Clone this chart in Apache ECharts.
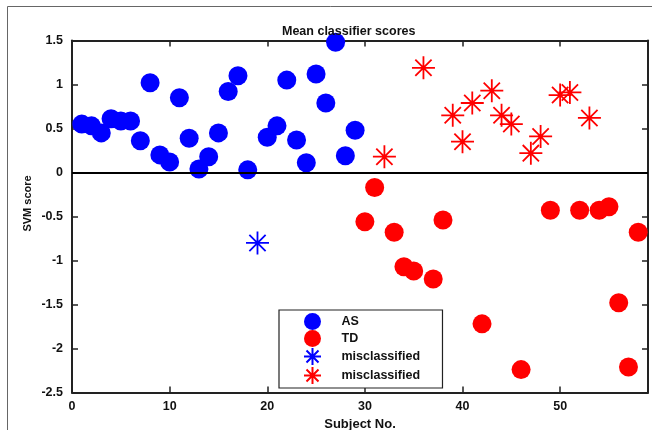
<!DOCTYPE html>
<html>
<head>
<meta charset="utf-8">
<script src="https://cdn.jsdelivr.net/npm/echarts@6/dist/echarts.min.js"></script>
<style>
html,body{margin:0;padding:0;background:#fff;}
#chart{width:652px;height:430px;}
</style>
</head>
<body>
<div id="chart"></div>
<script>
// Data
var asSubjects = [1,2,3,4,5,6,7,8,9,10,11,12,13,14,15,16,17,18,20,21,22,23,24,25,26,27,28,29];
var asScores   = [0.55,0.53,0.45,0.61,0.585,0.585,0.36,1.02,0.20,0.12,0.85,0.39,0.04,0.18,0.45,0.92,1.10,0.03,0.40,0.53,1.05,0.37,0.11,1.12,0.79,1.48,0.19,0.48];
var tdSubjects = [30,31,33,34,35,37,38,42,46,49,52,54,55,56,57,58];
var tdScores   = [-0.56,-0.17,-0.68,-1.07,-1.12,-1.21,-0.54,-1.72,-2.24,-0.43,-0.43,-0.43,-0.39,-1.48,-2.21,-0.68];
var misAsSubjects = [19];
var misAsScores   = [-0.80];
var misTdSubjects = [32,36,39,40,41,43,44,45,47,48,50,51,53];
var misTdScores   = [0.18,1.19,0.65,0.35,0.79,0.93,0.65,0.55,0.22,0.41,0.88,0.91,0.62];
var xTicks = [0,10,20,30,40,50];
var yTicks = [1.5,1,0.5,0,-0.5,-1,-1.5,-2,-2.5];
var titleText = 'Mean classifier scores';
var xName = 'Subject No.';
var yName = 'SVM score';
var legendNames = ['AS','TD','misclassified','misclassified '];

function pairs(xs, ys){ return xs.map(function(x,i){ return [x, ys[i]]; }); }

var FONT = '"Liberation Sans", Arial, Helvetica, sans-serif';
var STAR = 'path://M0,10L20,10M10,0L10,20M2.93,2.93L17.07,17.07M17.07,2.93L2.93,17.07';

var chart = echarts.init(document.getElementById('chart'), null, {renderer:'canvas'});

var xMin = 0, xMax = 59, yMin = -2.5, yMax = 1.5;

var axisCommon = {
  axisLine: {show:true, onZero:false, lineStyle:{color:'#222', width:2}},
  axisTick: {show:true, inside:true, length:6, lineStyle:{color:'#222', width:1.5}},
  splitLine: {show:false}
};

var option = {
  animation: false,
  backgroundColor: '#fff',
  textStyle: {fontFamily: FONT},
  graphic: [{
    type:'rect', silent:true,
    shape:{x:7.5, y:6.5, width:700, height:500},
    style:{fill:'none', stroke:'#666', lineWidth:1}
  }, {
    type:'text', silent:true,
    x:27.5, y:203.5, rotation:Math.PI/2,
    style:{text:yName, fontFamily:FONT, fontSize:11, fontWeight:'bold', fill:'#111',
      align:'center', verticalAlign:'middle'}
  }],
  title: {
    text: titleText,
    left: 282, top: 25, padding: 0,
    textStyle: {fontFamily: FONT, fontSize: 12.5, fontWeight: 'bold', color:'#111'}
  },
  grid: {left:72, right:4, top:40.5, bottom:37.5, containLabel:false, outerBoundsMode:'none'},
  xAxis: [
    Object.assign({
      type:'value', min:xMin, max:xMax, interval:10, position:'bottom',
      name: xName, nameLocation:'middle', nameGap:24,
      nameTextStyle:{fontFamily:FONT, fontSize:13, fontWeight:'bold', color:'#111'},
      axisLabel:{show:true, margin:8, fontFamily:FONT, fontSize:12.5, fontWeight:'bold', color:'#111',
        showMaxLabel:false,
        formatter:function(v){ return xTicks.indexOf(v) >= 0 ? String(v) : ''; }}
    }, axisCommon),
    Object.assign({
      type:'value', min:xMin, max:xMax, interval:10, position:'top',
      axisLabel:{show:false}
    }, axisCommon)
  ],
  yAxis: [
    Object.assign({
      type:'value', min:yMin, max:yMax, interval:0.5, position:'left',
      axisLabel:{show:true, margin:9, fontFamily:FONT, fontSize:12.5, fontWeight:'bold', color:'#111',
        formatter:function(v){ return yTicks.indexOf(v) >= 0 ? String(v) : ''; }}
    }, axisCommon),
    Object.assign({
      type:'value', min:yMin, max:yMax, interval:0.5, position:'right',
      axisLabel:{show:false}
    }, axisCommon)
  ],
  legend: {
    orient:'vertical',
    left:279, top:310,
    padding:[3, 19, 3, 24],
    itemWidth:48, itemHeight:17, itemGap:0,
    borderColor:'#222', borderWidth:1.2, backgroundColor:'#fff',
    textStyle:{fontFamily:FONT, fontSize:12.5, fontWeight:'bold', color:'#111'},
    data: legendNames,
    selectedMode:false
  },
  series: [
    {
      name: legendNames[0], type:'scatter', symbol:'circle', symbolSize:19,
      itemStyle:{color:'#0000ff', opacity:1},
      data: pairs(asSubjects, asScores),
      markLine: {
        silent:true, symbol:['none','none'], label:{show:false},
        lineStyle:{color:'#000', width:2, type:'solid'},
        data:[{yAxis:0}]
      },
      z: 3
    },
    {
      name: legendNames[1], type:'scatter', symbol:'circle', symbolSize:19,
      itemStyle:{color:'#ff0000', opacity:1},
      data: pairs(tdSubjects, tdScores), z: 3
    },
    {
      name: legendNames[2], type:'scatter', symbol:STAR, symbolSize:23, symbolKeepAspect:true,
      itemStyle:{color:'transparent', borderColor:'#0000ff', borderWidth:1.8, opacity:1},
      data: pairs(misAsSubjects, misAsScores), z: 3
    },
    {
      name: legendNames[3], type:'scatter', symbol:STAR, symbolSize:23, symbolKeepAspect:true,
      itemStyle:{color:'transparent', borderColor:'#ff0000', borderWidth:1.8, opacity:1},
      data: pairs(misTdSubjects, misTdScores), z: 3
    }
  ]
};
chart.setOption(option);
</script>
</body>
</html>
